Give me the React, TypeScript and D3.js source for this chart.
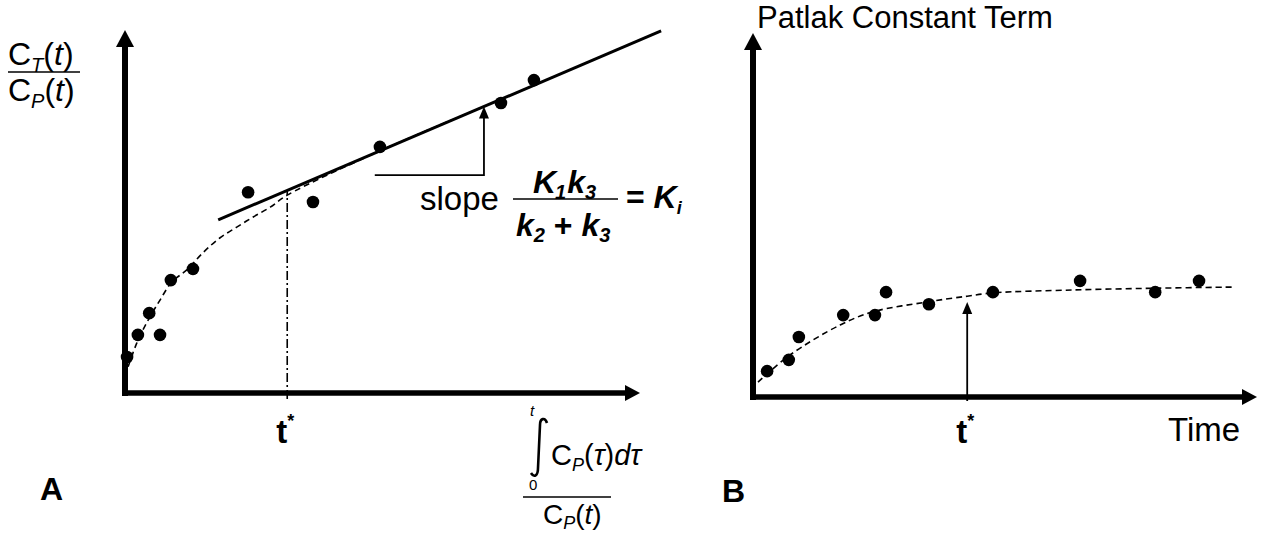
import React from "react";
import * as d3 from "d3";

// ---------- Panel A data (Patlak plot) ----------
const aPointX = [0.04, 0.25, 0.47, 0.68, 0.89, 1.32, 2.39, 3.65, 4.95, 7.3, 7.94];
const aPointY = [0.99, 1.6, 2.2, 1.6, 3.11, 3.42, 5.53, 5.26, 6.78, 7.99, 8.62];
const aFitX = [0.06, 0.23, 0.45, 0.68, 0.91, 1.2, 1.51, 1.84, 2.17, 2.49, 2.82, 3.15, 5.0, 6.9];
const aFitY = [0.72, 1.38, 2.01, 2.56, 3.06, 3.39, 3.86, 4.27, 4.57, 4.85, 5.12, 5.45, 6.7, 7.85];
const aSlopeLineX = [1.81, 10.41];
const aIntercept = 3.675;
const aSlope = 0.605;
const aTStar = 3.15;
const aArrowX = 6.97;
const aArrowBaseY = 6.0;
const aArrowLeftX = 4.85;

// ---------- Panel B data (Patlak constant term) ----------
const bPointX = [0.28, 0.71, 0.91, 1.79, 2.42, 2.64, 3.49, 4.76, 6.49, 7.98, 8.85];
const bPointY = [0.71, 1.02, 1.65, 2.25, 2.25, 2.88, 2.55, 2.88, 3.19, 2.88, 3.19];
const bFitX = [0.1, 0.73, 1.73, 2.38, 3.45, 4.25, 4.76, 6.35, 8.02, 9.52];
const bFitY = [0.41, 1.15, 1.98, 2.34, 2.61, 2.77, 2.86, 2.94, 2.99, 3.02];
const bTStar = 4.25;
const bArrowTopY = 2.61;

const FONT = "'Liberation Sans', Arial, Helvetica, sans-serif";

const xA = d3.scaleLinear().domain([0, 10]).range([125, 640]);
const yA = d3.scaleLinear().domain([0, 10]).range([393, 30]);
const xB = d3.scaleLinear().domain([0, 10]).range([753, 1257]);
const yB = d3.scaleLinear().domain([0, 10]).range([397, 33]);

function Axes({ x, y }: { x: d3.ScaleLinear<number, number>; y: d3.ScaleLinear<number, number> }) {
  const x0 = x(0), x1 = x(10), y0 = y(0), y1 = y(10);
  return (
    <g>
      <line x1={x0} y1={y0 + 3} x2={x0} y2={y1 + 12} stroke="#000" strokeWidth={6} />
      <polygon points={`${x0},${y1} ${x0 - 9},${y1 + 17} ${x0 + 9},${y1 + 17}`} fill="#000" />
      <line x1={x0 - 3} y1={y0} x2={x1 - 12} y2={y0} stroke="#000" strokeWidth={5.5} />
      <polygon points={`${x1},${y0} ${x1 - 15},${y0 - 8} ${x1 - 15},${y0 + 8}`} fill="#000" />
    </g>
  );
}

function TStar({ cx, baseline }: { cx: number; baseline: number }) {
  return (
    <text x={cx - 11} y={baseline} fontFamily={FONT} fontWeight="bold" fontSize={33}>
      t<tspan fontSize={18} dy={-16}>*</tspan>
    </text>
  );
}

export default function App() {
  const lineA = d3
    .line<number>()
    .x((_, i) => xA(aFitX[i]))
    .y((_, i) => yA(aFitY[i]))
    .curve(d3.curveCatmullRom.alpha(0.5));
  const lineB = d3
    .line<number>()
    .x((_, i) => xB(bFitX[i]))
    .y((_, i) => yB(bFitY[i]))
    .curve(d3.curveCatmullRom.alpha(0.5));

  const slopeY = (v: number) => aIntercept + aSlope * v;
  const ax = xA(aArrowX);
  const aTop = yA(slopeY(aArrowX));
  const tsx = xA(aTStar);
  const bx = xB(bTStar);
  const bTop = yB(bArrowTopY);

  return (
    <div style={{ position: "absolute", left: 0, top: 0 }}>
      <svg width={1274} height={535} style={{ display: "block", background: "#fff" }}>
        {/* ================= Panel A ================= */}
        <path d={lineA(aFitX) || ""} fill="none" stroke="#000" strokeWidth={1.6} strokeDasharray="6 4" />
        <line
          x1={xA(aSlopeLineX[0])}
          y1={yA(slopeY(aSlopeLineX[0]))}
          x2={xA(aSlopeLineX[1])}
          y2={yA(slopeY(aSlopeLineX[1]))}
          stroke="#000"
          strokeWidth={3}
        />
        <line
          x1={tsx}
          y1={yA(0) + 6}
          x2={tsx}
          y2={yA(slopeY(aTStar))}
          stroke="#000"
          strokeWidth={1.6}
          strokeDasharray="9 3 2 3"
        />
        {aPointX.map((v, i) => (
          <circle key={"a" + i} cx={xA(v)} cy={yA(aPointY[i])} r={6.3} fill="#000" />
        ))}
        <Axes x={xA} y={yA} />
        {/* slope arrow */}
        <polyline
          points={`${xA(aArrowLeftX)},${yA(aArrowBaseY)} ${ax},${yA(aArrowBaseY)} ${ax},${aTop + 9}`}
          fill="none"
          stroke="#000"
          strokeWidth={1.8}
        />
        <polygon points={`${ax},${aTop} ${ax - 5},${aTop + 12} ${ax + 5},${aTop + 12}`} fill="#000" />

        {/* y label A */}
        <text x={8} y={65} fontFamily={FONT} fontSize={32}>
          C<tspan fontSize={20} fontStyle="italic" dy={7}>T</tspan>
          <tspan dy={-7}>(</tspan>
          <tspan fontStyle="italic">t</tspan>)
        </text>
        <line x1={8} y1={72} x2={80} y2={72} stroke="#000" strokeWidth={1.5} />
        <text x={8} y={101} fontFamily={FONT} fontSize={32}>
          C<tspan fontSize={20} fontStyle="italic" dy={7}>P</tspan>
          <tspan dy={-7}>(</tspan>
          <tspan fontStyle="italic">t</tspan>)
        </text>

        {/* slope formula */}
        <text x={420} y={210} fontFamily={FONT} fontSize={33}>slope</text>
        <text x={533} y={193} fontFamily={FONT} fontSize={32} fontWeight="bold" fontStyle="italic">
          K<tspan fontSize={20} dy={6} dx={-1}>1</tspan>
          <tspan dy={-6} dx={1}>k</tspan>
          <tspan fontSize={20} dy={6}>3</tspan>
        </text>
        <line x1={513} y1={199} x2={618} y2={199} stroke="#000" strokeWidth={1.5} />
        <text x={516} y={236} fontFamily={FONT} fontSize={32} fontWeight="bold" fontStyle="italic">
          k<tspan fontSize={20} dy={6}>2</tspan>
          <tspan dy={-6} fontStyle="normal"> + </tspan>
          <tspan>k</tspan>
          <tspan fontSize={20} dy={6}>3</tspan>
        </text>
        <text x={626} y={208} fontFamily={FONT} fontSize={32} fontWeight="bold">
          = <tspan fontStyle="italic">K</tspan>
          <tspan fontSize={18} fontStyle="italic" dy={6}>i</tspan>
        </text>

        {/* x label A */}
        <path
          d="M 547 423 C 545 417, 540 418, 540 425 L 538 468 C 538 476, 534 478, 531 473"
          fill="none"
          stroke="#000"
          strokeWidth={2.6}
        />
        <text x={530} y={416} fontFamily={FONT} fontSize={15} fontStyle="italic">t</text>
        <text x={529} y={490} fontFamily={FONT} fontSize={15}>0</text>
        <text x={551} y={465} fontFamily={FONT} fontSize={29}>
          C<tspan fontSize={18} fontStyle="italic" dy={6}>P</tspan>
          <tspan dy={-6}>(</tspan>
          <tspan fontStyle="italic">τ</tspan>)<tspan fontStyle="italic">dτ</tspan>
        </text>
        <line x1={523} y1={497} x2={611} y2={497} stroke="#000" strokeWidth={1.5} />
        <text x={543} y={524} fontFamily={FONT} fontSize={28}>
          C<tspan fontSize={18} fontStyle="italic" dy={5}>P</tspan>
          <tspan dy={-5}>(</tspan>
          <tspan fontStyle="italic">t</tspan>)
        </text>

        <TStar cx={tsx} baseline={443} />
        <text x={40} y={500} fontFamily={FONT} fontWeight="bold" fontSize={32}>A</text>

        {/* ================= Panel B ================= */}
        <path d={lineB(bFitX) || ""} fill="none" stroke="#000" strokeWidth={1.6} strokeDasharray="6 4" />
        {bPointX.map((v, i) => (
          <circle key={"b" + i} cx={xB(v)} cy={yB(bPointY[i])} r={6.3} fill="#000" />
        ))}
        <Axes x={xB} y={yB} />
        <line x1={bx} y1={yB(0) + 4} x2={bx} y2={bTop + 9} stroke="#000" strokeWidth={1.8} />
        <polygon points={`${bx},${bTop} ${bx - 5},${bTop + 12} ${bx + 5},${bTop + 12}`} fill="#000" />

        <text x={757} y={28} fontFamily={FONT} fontSize={31}>Patlak Constant Term</text>
        <text x={1168} y={441} fontFamily={FONT} fontSize={33}>Time</text>
        <TStar cx={bx} baseline={443} />
        <text x={722} y={502} fontFamily={FONT} fontWeight="bold" fontSize={32}>B</text>
      </svg>
    </div>
  );
}
